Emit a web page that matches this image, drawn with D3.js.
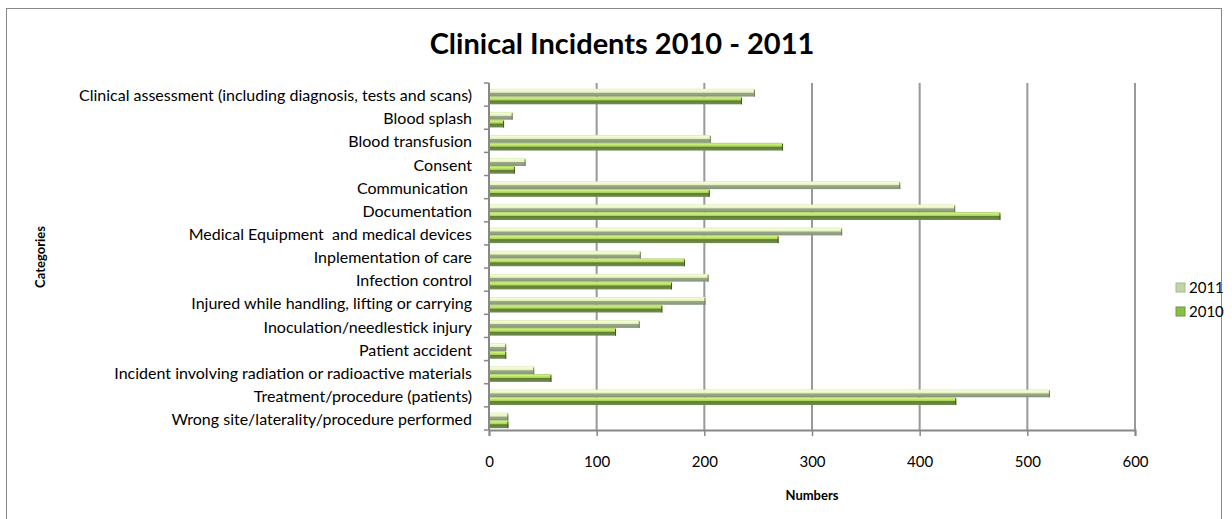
<!DOCTYPE html>
<html>
<head>
<meta charset="utf-8">
<script src="https://cdn.jsdelivr.net/npm/d3@7"></script>
<style>
  body { margin: 0; background: #fff; }
  text { font-family: Lato, "Open Sans", sans-serif; fill: #000; }
</style>
</head>
<body>
<svg id="chart"></svg>
<script>
var categories = [
  "Clinical assessment (including diagnosis, tests and scans)",
  "Blood splash",
  "Blood transfusion",
  "Consent",
  "Communication ",
  "Documentation",
  "Medical Equipment  and medical devices",
  "Inplementation of care",
  "Infection control",
  "Injured while handling, lifting or carrying",
  "Inoculation/needlestick injury",
  "Patient accident",
  "Incident involving radiation or radioactive materials",
  "Treatment/procedure (patients)",
  "Wrong site/laterality/procedure performed"
];
var series = ["2011", "2010"];
var values2011 = [247, 22, 206, 34, 382, 433, 328, 141, 204, 201, 140, 16, 42, 521, 18];
var values2010 = [235, 14, 273, 24, 205, 475, 269, 182, 170, 161, 118, 16, 58, 434, 18];
var xTicks = [0, 100, 200, 300, 400, 500, 600];

var width = 1232, height = 519,
    plotLeft = 489, plotRight = 1135, plotTop = 83, plotBottom = 430;

var svg = d3.select("#chart").attr("width", width).attr("height", height);

var defs = svg.append("defs");
function grad(id, stops) {
  var g = defs.append("linearGradient").attr("id", id)
    .attr("x1", 0).attr("y1", 0).attr("x2", 0).attr("y2", 1);
  stops.forEach(function (s) {
    g.append("stop").attr("offset", s[0]).attr("stop-color", s[1]);
  });
}
grad("g2011", [[0, "#d6e6a8"], [0.15, "#f6fcdc"], [0.45, "#e4f2b8"], [0.55, "#9aa88a"], [1, "#86947a"]]);
grad("g2010", [[0, "#9cc850"], [0.15, "#d2f080"], [0.45, "#a8d458"], [0.55, "#5e7e30"], [1, "#748c58"]]);
var fills = {"2011": "url(#g2011)", "2010": "url(#g2010)"};
var legendFills = {"2011": "#c4d4a4", "2010": "#8cbc48"};

// outer border
svg.append("rect").attr("x", 6.5).attr("y", 8.5).attr("width", 1215).attr("height", 530)
  .attr("fill", "none").attr("stroke", "#888").attr("stroke-width", 1);

var x = d3.scaleLinear().domain([0, 600]).range([plotLeft, plotRight]);
var y = d3.scaleBand().domain(categories).range([plotTop, plotBottom]).paddingInner(0.33).paddingOuter(0.165);
var ySub = d3.scaleBand().domain(series).range([0, y.bandwidth()]);

// gridlines
svg.append("g").selectAll("line").data(xTicks.slice(1)).enter().append("line")
  .attr("x1", function (d) { return x(d); }).attr("x2", function (d) { return x(d); })
  .attr("y1", plotTop).attr("y2", plotBottom)
  .attr("stroke", "#999").attr("stroke-width", 2);

// bars
var data = categories.map(function (c, i) {
  return {cat: c, vals: [{s: "2011", v: values2011[i]}, {s: "2010", v: values2010[i]}]};
});
var groups = svg.append("g").attr("transform", "translate(0,2)")
  .selectAll("g").data(data).enter().append("g")
  .attr("transform", function (d) { return "translate(0," + y(d.cat) + ")"; });
groups.selectAll("rect").data(function (d) { return d.vals; }).enter().append("rect")
  .attr("x", x(0))
  .attr("y", function (d) { return ySub(d.s); })
  .attr("width", function (d) { return x(d.v) - x(0); })
  .attr("height", ySub.bandwidth())
  .attr("fill", function (d) { return fills[d.s]; });
groups.selectAll("line.cap").data(function (d) { return d.vals; }).enter().append("line")
  .attr("class", "cap")
  .attr("x1", function (d) { return x(d.v) - 0.5; }).attr("x2", function (d) { return x(d.v) - 0.5; })
  .attr("y1", function (d) { return ySub(d.s) + 1; })
  .attr("y2", function (d) { return ySub(d.s) + ySub.bandwidth(); })
  .attr("stroke", function (d) { return d.s === "2011" ? "#6e7c60" : "#3e5a1c"; });

// x axis
var xAxis = svg.append("g").attr("transform", "translate(0," + plotBottom + ")")
  .call(d3.axisBottom(x).tickValues(xTicks).tickSize(6).tickPadding(20));
xAxis.select(".domain").attr("stroke", "#888").attr("stroke-width", 2);
xAxis.selectAll(".tick line").attr("stroke", "#888").attr("stroke-width", 1.5);
xAxis.selectAll("text").attr("font-size", 15).attr("font-family", "Lato, sans-serif").attr("fill", "#000");

// y axis
var yAxis = svg.append("g").attr("transform", "translate(" + plotLeft + ",0)");
yAxis.append("line").attr("x1", 0).attr("x2", 0).attr("y1", plotTop).attr("y2", plotBottom)
  .attr("stroke", "#888").attr("stroke-width", 2);
yAxis.selectAll("line.t").data(d3.range(categories.length + 1)).enter().append("line")
  .attr("class", "t")
  .attr("x1", -5).attr("x2", 0)
  .attr("y1", function (i) { return plotTop + i * y.step(); })
  .attr("y2", function (i) { return plotTop + i * y.step(); })
  .attr("stroke", "#888").attr("stroke-width", 1.5);
yAxis.selectAll("text").data(categories).enter().append("text")
  .attr("x", -17)
  .attr("y", function (d) { return y(d) + y.bandwidth() / 2 + 1; })
  .attr("dy", "0.35em")
  .attr("text-anchor", "end")
  .style("white-space", "pre")
  .attr("font-size", 16)
  .text(function (d) { return d; });

// titles
svg.append("text").attr("x", 622).attr("y", 54).attr("text-anchor", "middle")
  .attr("font-size", 29).attr("font-weight", "bold").text("Clinical Incidents 2010 - 2011");
svg.append("text").attr("x", 812).attr("y", 500).attr("text-anchor", "middle")
  .attr("font-size", 13).attr("font-weight", "bold").text("Numbers");
svg.append("text").attr("transform", "translate(45,257) rotate(-90)").attr("text-anchor", "middle")
  .attr("font-size", 13).attr("font-weight", "bold").text("Categories");

// legend
var legend = svg.append("g").selectAll("g").data(series).enter().append("g")
  .attr("transform", function (d, i) { return "translate(1176," + (283 + i * 24) + ")"; });
legend.append("rect").attr("width", 9).attr("height", 9)
  .attr("fill", function (d) { return legendFills[d]; })
  .attr("stroke", function (d) { return d === "2011" ? "#a8b890" : "#6a9a30"; });
legend.append("text").attr("x", 13).attr("y", 5).attr("dy", "0.35em")
  .attr("font-size", 15).text(function (d) { return d; });
</script>
</body>
</html>
